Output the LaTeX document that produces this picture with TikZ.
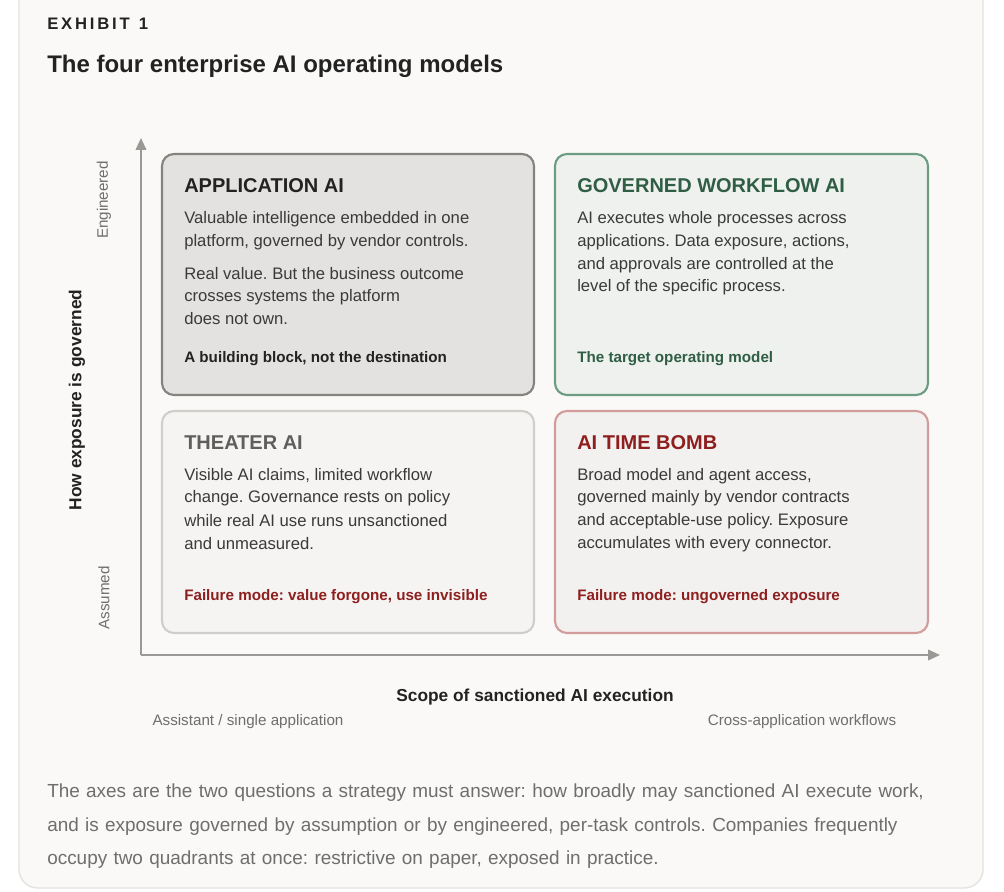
\documentclass[tikz,border=0pt]{standalone}
\usepackage{fontspec}
\setmainfont{Liberation Sans}
\usetikzlibrary{arrows.meta}
\definecolor{pagebg}{HTML}{FAF9F7}
\definecolor{cardline}{HTML}{E4E2DF}
\definecolor{inkdark}{HTML}{222222}
\definecolor{inkbody}{HTML}{3A3A3A}
\definecolor{inkgrey}{HTML}{6E6E6E}
\definecolor{axisgrey}{HTML}{9A9996}
\definecolor{appfill}{HTML}{E3E2E0}
\definecolor{appline}{HTML}{85837F}
\definecolor{thfill}{HTML}{F5F4F2}
\definecolor{thline}{HTML}{D0CECA}
\definecolor{thhead}{HTML}{5E5E5E}
\definecolor{gwfill}{HTML}{EFF1EE}
\definecolor{gwline}{HTML}{6C9C82}
\definecolor{gwhead}{HTML}{2F5E45}
\definecolor{tbfill}{HTML}{F3F1EF}
\definecolor{tbline}{HTML}{D39C9C}
\definecolor{tbhead}{HTML}{8E1F1F}
\tikzset{
  quad/.style={draw,line width=1.6pt,rounded corners=9pt},
  head/.style={anchor=west,font=\fontsize{15}{17}\selectfont\bfseries},
  body/.style={anchor=west,font=\fontsize{12.5}{14}\selectfont,text=inkbody,inner sep=0pt},
  note/.style={anchor=west,font=\fontsize{11.4}{13}\selectfont\bfseries,inner sep=0pt},
  tick/.style={font=\fontsize{11.4}{13}\selectfont,text=inkgrey},
  axis/.style={draw=axisgrey,line width=1.3pt,-{Triangle[length=9pt,width=8pt]}}
}
\begin{document}
\frenchspacing
\begin{tikzpicture}[x=0.75pt,y=-0.75pt]
\useasboundingbox[fill=white](0,0) rectangle (1004,892);
\draw[fill=pagebg,draw=cardline,line width=1pt,rounded corners=14pt](19,-20) rectangle (983,888);
%titles
\node[anchor=west,inner sep=0pt,font=\fontsize{12.5}{14}\selectfont\bfseries,text=inkdark](exhibit)at(47,24){E\,X\,H\,I\,B\,I\,T\ \ 1};
\node[anchor=west,inner sep=0pt,font=\fontsize{18}{21}\selectfont\bfseries,text=inkdark](title)at(47,66){The four enterprise AI operating models};
%quadrants
\draw[quad,fill=appfill,draw=appline](162,154) rectangle (534,395);
\draw[quad,fill=gwfill,draw=gwline](555,154) rectangle (928,395);
\draw[quad,fill=thfill,draw=thline](162,411) rectangle (534,633);
\draw[quad,fill=tbfill,draw=tbline](555,411) rectangle (928,633);
%axes
\coordinate (origin) at (141,655);
\coordinate (ytop) at (141,138);
\coordinate (xend) at (940,655);
\draw[axis](origin)--(ytop);
\draw[axis](origin)--(xend);
%application ai
\node[head,text=inkdark,inner sep=0pt](apphead)at(184,186){APPLICATION AI};
\node[body](app1)at(184,219){Valuable intelligence embedded in one};
\node[body](app2)at(184,242){platform, governed by vendor controls.};
\node[body](app3)at(184,274){Real value. But the business outcome};
\node[body](app4)at(184,297){crosses systems the platform};
\node[body](app5)at(184,319){does not own.};
\node[note,text=inkdark](appnote)at(184,359){A building block, not the destination};
%governed workflow ai
\node[head,text=gwhead,inner sep=0pt](gwhead)at(577,186){GOVERNED WORKFLOW AI};
\node[body](gw1)at(577,219){AI executes whole processes across};
\node[body](gw2)at(577,242){applications. Data exposure, actions,};
\node[body](gw3)at(577,265){and approvals are controlled at the};
\node[body](gw4)at(577,287){level of the specific process.};
\node[note,text=gwhead](gwnote)at(577,359){The target operating model};
%theater ai
\node[head,text=thhead,inner sep=0pt](thhead)at(184,443){THEATER AI};
\node[body](th1)at(184,476){Visible AI claims, limited workflow};
\node[body](th2)at(184,498){change. Governance rests on policy};
\node[body](th3)at(184,521){while real AI use runs unsanctioned};
\node[body](th4)at(184,544){and unmeasured.};
\node[note,text=tbhead](thnote)at(184,597){Failure mode: value forgone, use invisible};
%ai time bomb
\node[head,text=tbhead,inner sep=0pt](tbhead)at(577,443){AI TIME BOMB};
\node[body](tb1)at(577,476){Broad model and agent access,};
\node[body](tb2)at(577,498){governed mainly by vendor contracts};
\node[body](tb3)at(577,521){and acceptable-use policy. Exposure};
\node[body](tb4)at(577,544){accumulates with every connector.};
\node[note,text=tbhead](tbnote)at(577,597){Failure mode: ungoverned exposure};
%axis labels
\node[tick,rotate=90](engineered)at(104,200){Engineered};
\node[tick,rotate=90](assumed)at(104,598){Assumed};
\node[rotate=90,font=\fontsize{13}{15}\selectfont\bfseries,text=inkdark](ylabel)at(77,400){How exposure is governed};
\node[font=\fontsize{13}{15}\selectfont\bfseries,text=inkdark](xlabel)at(535,697){Scope of sanctioned AI execution};
\node[tick](single)at(248,722){Assistant / single application};
\node[tick](cross)at(802,722){Cross-application workflows};
%caption
\node[anchor=north west,align=left,text width=950pt,font=\fontsize{14.2}{25}\selectfont,text=inkgrey,inner sep=0pt](caption)at(47,784){The axes are the two questions a strategy must answer: how broadly may sanctioned AI execute work,\\and is exposure governed by assumption or by engineered, per-task controls. Companies frequently\\occupy two quadrants at once: restrictive on paper, exposed in practice.};
\end{tikzpicture}
\end{document}
